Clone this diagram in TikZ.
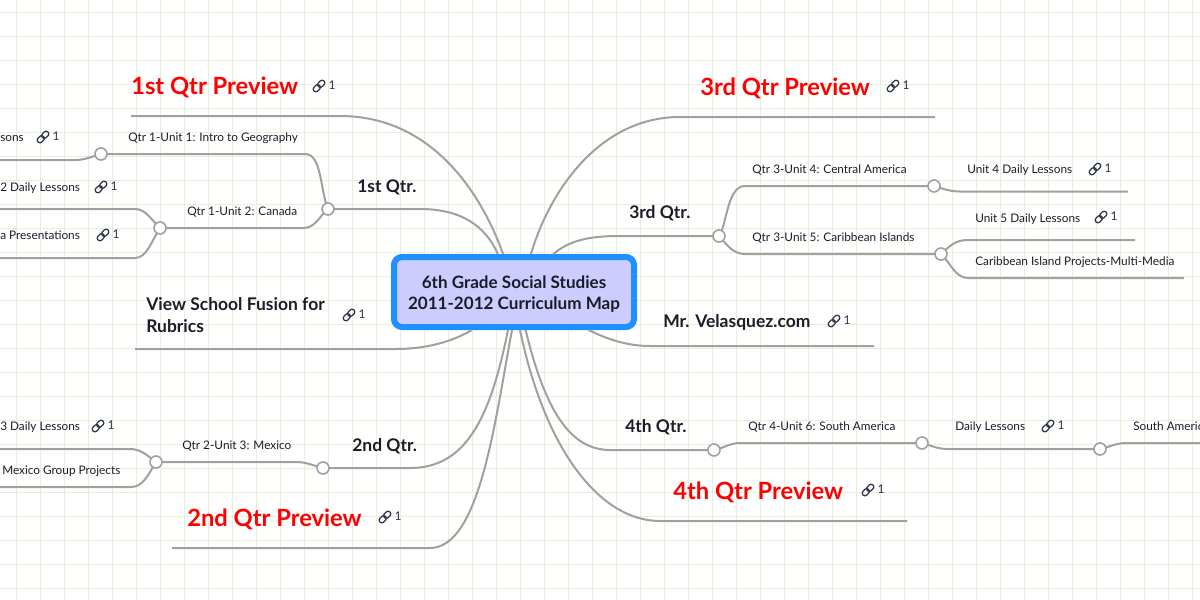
\documentclass[tikz,border=0pt]{standalone}
\usepackage{fontspec}
\setmainfont{Lato}
\definecolor{gridgreen}{HTML}{E6F0D8}
\definecolor{branchgray}{HTML}{A0A0A0}
\definecolor{rootblue}{HTML}{1E90FF}
\definecolor{rootfill}{HTML}{CCCCFF}
\definecolor{inkdark}{HTML}{1C1C28}
\definecolor{inklink}{HTML}{2F3448}
\tikzset{
	gridline/.style={color=gridgreen, line width=0.75pt},
	branch/.style={color=branchgray, line width=1.5pt},
	knob/.style={circle, draw=branchgray, fill=white, line width=1.2pt, minimum size=9pt, inner sep=0pt},
	rootbox/.style={draw=rootblue, fill=rootfill, line width=4.5pt, rounded corners=6pt, minimum width=180pt, minimum height=52.5pt, align=center, text=inkdark, font=\fontsize{12.8}{16}\selectfont\bfseries},
	preview/.style={anchor=mid west, inner sep=0pt, yshift=-3.75pt, text=red, font=\fontsize{17.8}{22}\selectfont\bfseries},
	topic/.style={anchor=mid west, inner sep=0pt, yshift=-2pt, text=inkdark, align=left, font=\fontsize{13.1}{16.5}\selectfont\bfseries},
	unit/.style={anchor=mid west, inner sep=0pt, yshift=-0.9pt, text=inkdark, font=\fontsize{8.85}{11}\selectfont},
	linkmark/.style={inner sep=0pt, text=inklink, font=\fontsize{9}{11}\selectfont},
	chain/.pic={
		\draw[color=inklink, line width=0.95pt, rounded corners=1.9pt, rotate=45] (-7,-2.7) rectangle (0.8,2.7);
		\draw[color=inklink, line width=0.95pt, rounded corners=1.9pt, rotate=45] (-0.8,-2.7) rectangle (7,2.7);
	},
}
\begin{document}
\begin{tikzpicture}[x=0.75pt,y=-0.75pt]
	\useasboundingbox (0,0) rectangle (1200,600);
	\foreach \x in {16.7,40.7,...,1200}
		\draw[gridline] (\x,0) -- (\x,600);
	\foreach \y in {12,36,...,600}
		\draw[gridline] (0,\y) -- (1200,\y);

	\node[rootbox] (root) at (514,292) {\rule{0pt}{12.5pt}6th Grade Social Studies\\2011-2012 Curriculum Map};

	\coordinate (endpreone) at (131,116);
	\coordinate (endpretwo) at (172,548);
	\coordinate (endprethree) at (935,117);
	\coordinate (endprefour) at (907,521);
	\coordinate (endfusion) at (135,349);
	\coordinate (endvelasquez) at (874,346);
	\coordinate (endone) at (-5,160);
	\coordinate (enddailytwo) at (-5,209);
	\coordinate (endcanada) at (-5,258);
	\coordinate (enddailythree) at (-5,449);
	\coordinate (endmexico) at (-5,487);
	\coordinate (enddailyfour) at (1128,191.5);
	\coordinate (enddailyfive) at (1135,240);
	\coordinate (endcaribbean) at (1184,278);
	\coordinate (endsouth) at (1205,443);

	\coordinate (posqone) at (328,209);
	\coordinate (posqtwo) at (323,468);
	\coordinate (posqthree) at (719,236);
	\coordinate (posqfour) at (714,450);
	\coordinate (posuone) at (101,154);
	\coordinate (posutwo) at (160,228);
	\coordinate (posuthree) at (156,462);
	\coordinate (posufour) at (934,186);
	\coordinate (posufive) at (941,254);
	\coordinate (posusix) at (922,443);
	\coordinate (posdaily) at (1100,449);

	% from the root
	\draw[branch] (endpreone) -- (340,116) .. controls (430,116) and (480,190) .. (root.106);
	\draw[branch] (posqone) -- (420,209) .. controls (460,209) and (485,225) .. (root.113);
	\draw[branch] (endfusion) -- (395,349) .. controls (430,349) and (455,340) .. (root.222);
	\draw[branch] (posqtwo) -- (410,468) .. controls (465,468) and (490,420) .. (root.261);
	\draw[branch] (endpretwo) -- (430,548) .. controls (480,548) and (495,420) .. (root.267);
	\draw[branch] (endprethree) -- (680,117) .. controls (600,117) and (550,190) .. (root.66);
	\draw[branch] (posqthree) -- (620,236) .. controls (590,236) and (570,240) .. (root.44);
	\draw[branch] (endvelasquez) -- (650,346) .. controls (625,346) and (605,338) .. (root.333);
	\draw[branch] (posqfour) -- (610,450) .. controls (570,450) and (545,410) .. (root.287);
	\draw[branch] (endprefour) -- (660,521) .. controls (600,521) and (545,450) .. (root.279);

	% left side
	\draw[branch] (posqone) .. controls (320,190) and (322,154) .. (305,154) -- (posuone);
	\draw[branch] (posuone) .. controls (90,157) and (85,160) .. (75,160) -- (endone);
	\draw[branch] (posqone) .. controls (318,218) and (315,228) .. (303,228) -- (posutwo);
	\draw[branch] (posutwo) .. controls (150,218) and (145,209) .. (135,209) -- (enddailytwo);
	\draw[branch] (posutwo) .. controls (152,240) and (147,258) .. (135,258) -- (endcanada);
	\draw[branch] (posqtwo) .. controls (312,465) and (305,462) .. (297,462) -- (posuthree);
	\draw[branch] (posuthree) .. controls (147,455) and (140,449) .. (130,449) -- (enddailythree);
	\draw[branch] (posuthree) .. controls (148,475) and (143,487) .. (131,487) -- (endmexico);

	% right side
	\draw[branch] (posqthree) .. controls (727,225) and (727,186) .. (745,186) -- (posufour);
	\draw[branch] (posufour) .. controls (944,189) and (950,191.5) .. (960,191.5) -- (enddailyfour);
	\draw[branch] (posqthree) .. controls (727,245) and (733,254) .. (745,254) -- (posufive);
	\draw[branch] (posufive) .. controls (950,246) and (955,240) .. (968,240) -- (enddailyfive);
	\draw[branch] (posufive) .. controls (950,262) and (955,278) .. (968,278) -- (endcaribbean);
	\draw[branch] (posqfour) .. controls (724,448) and (730,443) .. (740,443) -- (posusix);
	\draw[branch] (posusix) .. controls (932,446) and (938,449) .. (948,449) -- (posdaily);
	\draw[branch] (posdaily) .. controls (1110,447) and (1116,443) .. (1126,443) -- (endsouth);

	\foreach \n in {qone,qtwo,qthree,qfour,uone,utwo,uthree,ufour,ufive,usix,daily}
		\node[knob] (\n) at (pos\n) {};

	\node[preview] (labpreone) at (131,86) {1st Qtr Preview};
	\node[preview] (labprethree) at (700,87) {3rd Qtr Preview};
	\node[preview] (labpretwo) at (187,518) {2nd Qtr Preview};
	\node[preview] (labprefour) at (673,491) {4th Qtr Preview};

	\node[topic] (labone) at (357,186) {1st Qtr.};
	\node[topic] (labtwo) at (352,445) {2nd Qtr.};
	\node[topic] (labthree) at (629,212) {3rd Qtr.};
	\node[topic] (labfour) at (625,426) {4th Qtr.};
	\node[topic] (labfusion) at (146,326.5) {View School Fusion for\\Rubrics};
	\node[topic] (labvelasquez) at (663,321) {Mr. Velasquez.com};

	\node[unit] (labuone) at (128,137) {Qtr 1-Unit 1: Intro to Geography};
	\node[unit] (labutwo) at (187,211) {Qtr 1-Unit 2: Canada};
	\node[unit] (labuthree) at (182,445) {Qtr 2-Unit 3: Mexico};
	\node[unit] (labufour) at (752,169) {Qtr 3-Unit 4: Central America};
	\node[unit] (labufive) at (752,237) {Qtr 3-Unit 5: Caribbean Islands};
	\node[unit] (labusix) at (748,426) {Qtr 4-Unit 6: South America};
	\node[unit] (labdailyfour) at (967,169) {Unit 4 Daily Lessons};
	\node[unit] (labdailyfive) at (975,218) {Unit 5 Daily Lessons};
	\node[unit] (labcaribbean) at (975,261) {Caribbean Island Projects-Multi-Media};
	\node[unit] (labdailysix) at (955,426) {Daily Lessons};
	\node[unit] (labsouth) at (1133,426) {South America};
	\node[unit] (labsons) at (0,137) {sons};
	\node[unit] (labdailytwo) at (0,187) {2 Daily Lessons};
	\node[unit] (labpresent) at (0,235) {a Presentations};
	\node[unit] (labdailythree) at (0,426) {3 Daily Lessons};
	\node[unit] (labgroup) at (2,470) {Mexico Group Projects};

	% link marks
	\foreach \x/\y [count=\i] in {319/86,43/137,101/187,103/235,98/426,385/517,349/315,893/86,1095/169,1101/217,834/321,1048/426,868/490} {
		\pic at (\x,\y) {chain};
		\node[linkmark] (link\i) at ([xshift=9.75pt]\x,\y-1) {1};
	}
\end{tikzpicture}
\end{document}
